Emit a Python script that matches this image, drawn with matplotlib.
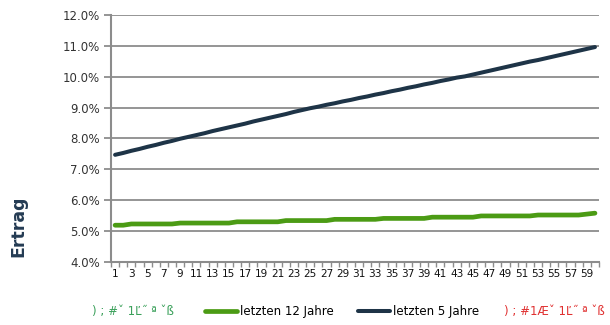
import matplotlib
matplotlib.use("Agg")
import matplotlib.pyplot as plt
from matplotlib.ticker import FixedLocator, PercentFormatter

# 60 Perioden, Ertrag in %
perioden = list(range(1, 61))
ertrag_12 = [5.19, 5.19,
             5.23, 5.23, 5.23, 5.23, 5.23, 5.23,
             5.26, 5.26, 5.26, 5.26, 5.26, 5.26, 5.26,
             5.30, 5.30, 5.30, 5.30, 5.30, 5.30,
             5.34, 5.34, 5.34, 5.34, 5.34, 5.34,
             5.38, 5.38, 5.38, 5.38, 5.38, 5.38,
             5.41, 5.41, 5.41, 5.41, 5.41, 5.41,
             5.45, 5.45, 5.45, 5.45, 5.45, 5.45,
             5.49, 5.49, 5.49, 5.49, 5.49, 5.49, 5.49,
             5.52, 5.52, 5.52, 5.52, 5.52, 5.52,
             5.55, 5.58]
ertrag_5 = [7.47, 7.53, 7.60, 7.66, 7.73, 7.79, 7.86, 7.92, 7.99,
            8.05, 8.11, 8.17, 8.24, 8.30, 8.36, 8.42, 8.48, 8.55, 8.61,
            8.67, 8.73, 8.79, 8.86, 8.92, 8.98,
            9.03, 9.09, 9.14, 9.20, 9.25, 9.31, 9.36, 9.42, 9.47, 9.53,
            9.58, 9.64, 9.69, 9.75, 9.80, 9.86, 9.91, 9.97,
            10.01, 10.07, 10.13, 10.19, 10.25, 10.31, 10.37, 10.43, 10.49,
            10.54, 10.60, 10.66, 10.72, 10.78, 10.84, 10.90, 10.96]
serien = ["letzten 12 Jahre", "letzten 5 Jahre"]
# kaputte Legendeneintraege aus dem Original
legende_gruen = ") ; #\u02c7 1\u013d\u02dd \u00aa \u02c7\u00df"
legende_rot = ") ; #1\u00c6\u02c7 1\u013d\u02dd \u00aa \u02c7\u00df"

GREEN = "#4b9b14"
NAVY = "#1e3447"
GRID = "#8c8c8c"

fig = plt.figure(figsize=(6.1, 3.25), dpi=100)
ax = fig.add_axes([0.182, 0.194, 0.8, 0.76])

ax.plot(perioden, ertrag_12, color=GREEN, lw=3.4, solid_capstyle="round", label=serien[0])
ax.plot(perioden, ertrag_5, color=NAVY, lw=2.9, solid_capstyle="round", label=serien[1])

ax.set_xlim(0.5, 60.5)
ax.set_ylim(4, 12)
ax.set_yticks(range(4, 13))
ax.yaxis.set_major_formatter(PercentFormatter(decimals=1))
ax.grid(axis="y", color=GRID, lw=1.3)
ax.set_axisbelow(True)

ax.xaxis.set_major_locator(FixedLocator(perioden[::2]))
ax.xaxis.set_minor_locator(FixedLocator([p - 0.5 for p in perioden] + [60.5]))
ax.tick_params(axis="x", which="major", length=0, pad=5, labelsize=7.6, labelcolor="#111111")
ax.tick_params(axis="x", which="minor", length=3.5, width=1, color=GRID, direction="out")
ax.tick_params(axis="y", length=5, width=1.3, color=GRID, labelsize=8.5, labelcolor="#333333", pad=3)

for s in ["top", "right"]:
    ax.spines[s].set_visible(False)
for s in ["left", "bottom"]:
    ax.spines[s].set_color(GRID)
    ax.spines[s].set_linewidth(1.5)

fig.text(0.03, 0.305, "Ertrag", rotation=90, ha="center", va="center",
         fontsize=12.5, fontweight="bold", color="#243b53")

fig.legend(loc="center", bbox_to_anchor=(0.561, 0.04), ncol=2, frameon=False,
           fontsize=8.5, handlelength=2.7, handletextpad=0.3, columnspacing=2.0,
           borderpad=0)
fig.text(0.151, 0.04, legende_gruen, color="#3aa05a", fontsize=8.5, va="center", ha="left")
fig.text(0.826, 0.04, legende_rot, color="#e03030", fontsize=8.5, va="center", ha="left")

fig.savefig("out.png", dpi=100)
